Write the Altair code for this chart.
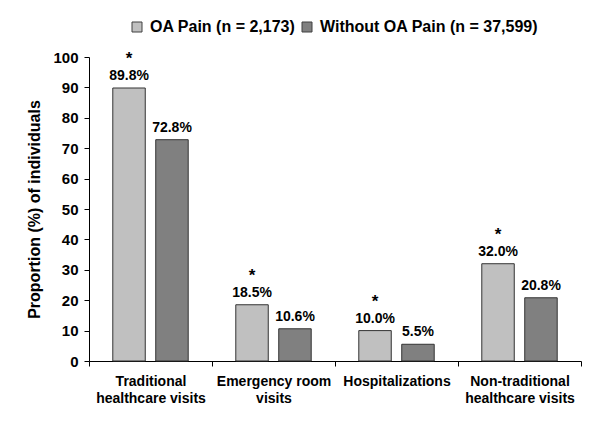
import altair as alt
import pandas as pd

categories = ["Traditional|healthcare visits", "Emergency room|visits", "Hospitalizations", "Non-traditional|healthcare visits"]
groups = ["OA Pain (n = 2,173)", "Without OA Pain (n = 37,599)"]
oa_pain = [89.8, 18.5, 10.0, 32.0]
without_oa = [72.8, 10.6, 5.5, 20.8]
stars = ["*", "*", "*", "*"]

rows = []
for i, c in enumerate(categories):
    rows.append({"cat": c, "grp": groups[0], "val": oa_pain[i], "lab": f"{oa_pain[i]:.1f}%", "star": stars[i]})
    rows.append({"cat": c, "grp": groups[1], "val": without_oa[i], "lab": f"{without_oa[i]:.1f}%", "star": ""})
df = pd.DataFrame(rows)

FONT = "Liberation Sans"

x = alt.X("cat:N", sort=categories, title=None,
          scale=alt.Scale(paddingInner=0, paddingOuter=0),
          axis=alt.Axis(labelExpr="isValid(datum.value) ? split(datum.value, '|') : ''", labelAngle=0,
                        labelFont=FONT, labelFontSize=14, labelFontWeight="bold",
                        labelColor="black", labelPadding=8, labelLineHeight=17, labelLimit=200,
                        tickBand="extent", tickColor="black", tickSize=5,
                        domainColor="black", grid=False))
xo = alt.XOffset("grp:N", sort=groups,
                 scale=alt.Scale(paddingInner=0.244, paddingOuter=0.554))
y = alt.Y("val:Q", title="Proportion (%) of individuals",
          scale=alt.Scale(domain=[0, 100], nice=False),
          axis=alt.Axis(values=list(range(0, 101, 10)), grid=False,
                        labelFont=FONT, labelFontSize=15, labelFontWeight="bold",
                        labelColor="black", tickColor="black", tickSize=5,
                        domainColor="black", labelPadding=6,
                        titleFont=FONT, titleFontSize=16, titleFontWeight="bold",
                        titleColor="black", titlePadding=10))
color = alt.Color("grp:N", sort=groups, title=None,
                  scale=alt.Scale(domain=groups, range=["#c0c0c0", "#808080"]),
                  legend=alt.Legend(orient="none", legendX=40, legendY=-38, direction="horizontal",
                                    symbolType="square", symbolSize=100, symbolStrokeColor="#404040",
                                    symbolStrokeWidth=1, labelFont=FONT, labelFontSize=16,
                                    labelFontWeight="bold", labelColor="black", columnPadding=3,
                                    labelOffset=5, labelLimit=400))

base = alt.Chart(df)
bars = base.mark_bar(stroke="#333333", strokeWidth=1).encode(x=x, xOffset=xo, y=y, color=color)
labels = base.mark_text(dy=-8, baseline="alphabetic", font=FONT, fontSize=14, fontWeight="bold",
                        color="black").encode(x=x, xOffset=xo, y=y, text="lab:N")
starlab = base.mark_text(dy=-24, baseline="alphabetic", font=FONT, fontSize=17, fontWeight="bold",
                         color="black").encode(x=x, xOffset=xo, y=y, text="star:N")

chart = (bars + labels + starlab).properties(
    width=492, height=304,
    autosize=alt.AutoSizeParams(type="none"),
    padding={"left": 81, "top": 49, "right": 11, "bottom": 52},
).configure_view(stroke=None)

chart.save("out.html", embed_options={"renderer": "svg", "actions": False})
